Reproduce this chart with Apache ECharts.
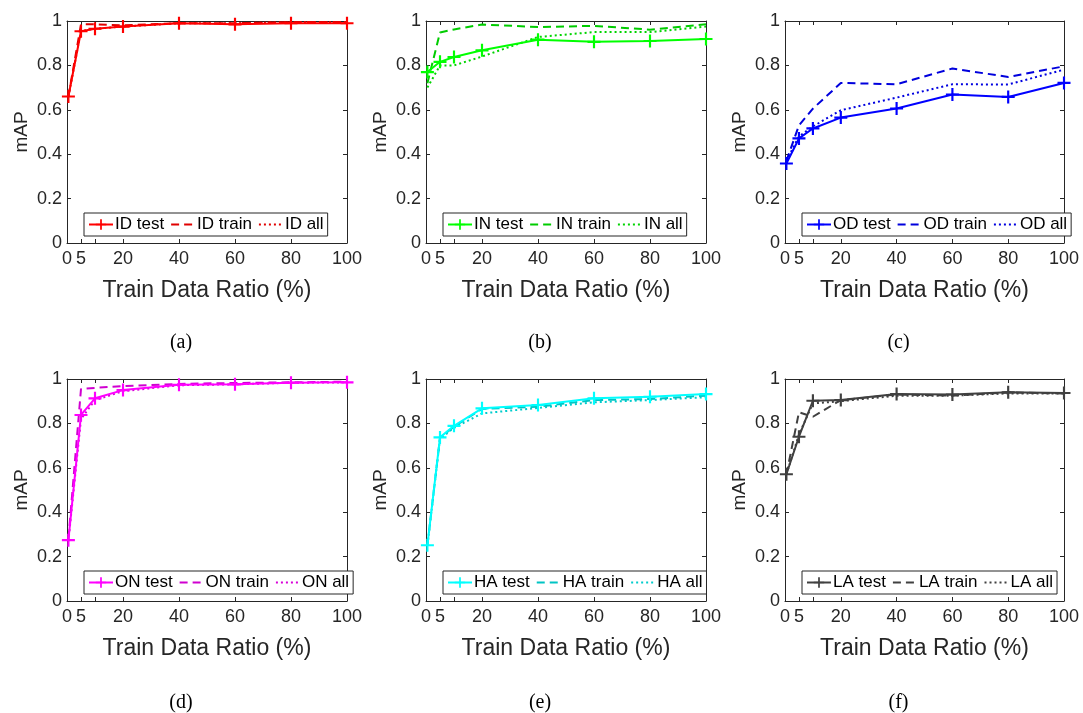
<!DOCTYPE html>
<html>
<head>
<meta charset="utf-8">
<script src="https://cdn.jsdelivr.net/npm/echarts@6/dist/echarts.min.js"></script>
<style>
  html, body { margin: 0; padding: 0; background: #fff; }
  #chart { width: 1083px; height: 713px; }
</style>
</head>
<body>
<div id="chart"></div>
<script>
// train data ratio (%) for every point
const xRatio = [0.5, 5, 10, 20, 40, 60, 80, 100];
const xTickValues = [0, 5, 10, 20, 40, 60, 80, 100];
const xLabelValues = [0, 5, 20, 40, 60, 80, 100];
const panelLabels = ["(a)", "(b)", "(c)", "(d)", "(e)", "(f)"];
const groups = ["ID", "IN", "OD", "ON", "HA", "LA"];

// mAP per group
const idTest = [0.66, 0.954, 0.965, 0.975, 0.99, 0.985, 0.99, 0.99];
const idTrain = [0.66, 0.985, 0.985, 0.98, 0.99, 0.99, 0.995, 0.995];
const idAll = [0.66, 0.955, 0.965, 0.975, 0.99, 0.99, 0.995, 0.995];

const inTest = [0.77, 0.816, 0.838, 0.868, 0.916, 0.906, 0.91, 0.919];
const inTrain = [0.72, 0.948, 0.962, 0.984, 0.973, 0.978, 0.961, 0.985];
const inAll = [0.70, 0.80, 0.80, 0.84, 0.928, 0.95, 0.95, 0.975];

const odTest = [0.358, 0.471, 0.516, 0.565, 0.606, 0.669, 0.658, 0.721];
const odTrain = [0.37, 0.53, 0.605, 0.721, 0.715, 0.786, 0.748, 0.796];
const odAll = [0.37, 0.48, 0.525, 0.598, 0.655, 0.715, 0.714, 0.781];

const onTest = [0.274, 0.838, 0.913, 0.95, 0.974, 0.976, 0.983, 0.985];
const onTrain = [0.28, 0.955, 0.96, 0.968, 0.978, 0.982, 0.985, 0.988];
const onAll = [0.27, 0.82, 0.905, 0.945, 0.972, 0.976, 0.983, 0.985];

const haTest = [0.251, 0.737, 0.789, 0.868, 0.883, 0.913, 0.92, 0.932];
const haTrain = [0.25, 0.735, 0.785, 0.865, 0.875, 0.905, 0.91, 0.925];
const haAll = [0.25, 0.73, 0.78, 0.845, 0.87, 0.895, 0.905, 0.918];

const laTest = [0.571, 0.74, 0.902, 0.905, 0.932, 0.93, 0.94, 0.937];
const laTrain = [0.57, 0.85, 0.83, 0.905, 0.93, 0.925, 0.94, 0.935];
const laAll = [0.57, 0.75, 0.89, 0.90, 0.925, 0.925, 0.935, 0.935];

const groupValues = [
  [idTest, idTrain, idAll],
  [inTest, inTrain, inAll],
  [odTest, odTrain, odAll],
  [onTest, onTrain, onAll],
  [haTest, haTrain, haAll],
  [laTest, laTrain, laAll],
];

// test / train / all colours per panel
const palette = [
  ["#ff0000", "#e00000", "#e00000"],
  ["#00ff00", "#00cc00", "#00d400"],
  ["#0000ff", "#0000dd", "#0000e0"],
  ["#ff00ff", "#d000d0", "#d800d8"],
  ["#00ffff", "#00c4c4", "#00cccc"],
  ["#404040", "#404040", "#404040"],
];

const boxes = [
  { left: 67, top: 21, width: 280, height: 222 },
  { left: 426, top: 21, width: 280, height: 222 },
  { left: 785, top: 21, width: 279, height: 222 },
  { left: 67, top: 379, width: 280, height: 222 },
  { left: 426, top: 379, width: 280, height: 222 },
  { left: 785, top: 379, width: 279, height: 222 },
];

const AXIS = "#262626";
const SANS = "Liberation Sans, Arial, sans-serif";
const PLUS = "path://M0,5L12,5L12,7L0,7Z M5,0L7,0L7,12L5,12Z";

const chart = echarts.init(document.getElementById("chart"), null, { renderer: "canvas" });

const grid = [];
const xAxis = [];
const yAxis = [];
const series = [];
const legend = [];
const graphic = [];

boxes.forEach((box, i) => {
  grid.push(Object.assign({ show: false }, box));

  const tickStyle = { show: true, inside: true, length: 4, lineStyle: { color: AXIS } };
  xAxis.push({
    gridIndex: i,
    type: "value",
    min: 0,
    max: 100,
    position: "bottom",
    axisLine: { show: true, onZero: false, lineStyle: { color: AXIS, width: 1 } },
    axisTick: Object.assign({ customValues: xTickValues }, tickStyle),
    axisLabel: { customValues: xLabelValues, color: AXIS, fontSize: 18, fontFamily: SANS, margin: 7 },
    splitLine: { show: false },
    name: "Train Data Ratio (%)",
    nameLocation: "middle",
    nameGap: 36,
    nameTextStyle: { color: AXIS, fontSize: 23, fontFamily: SANS },
  });
  xAxis.push({
    gridIndex: i,
    type: "value",
    min: 0,
    max: 100,
    position: "top",
    axisLine: { show: true, onZero: false, lineStyle: { color: AXIS, width: 1 } },
    axisTick: Object.assign({ customValues: xTickValues }, tickStyle),
    axisLabel: { show: false },
    splitLine: { show: false },
  });
  yAxis.push({
    gridIndex: i,
    type: "value",
    min: 0,
    max: 1,
    interval: 0.2,
    position: "left",
    axisLine: { show: true, onZero: false, lineStyle: { color: AXIS, width: 1 } },
    axisTick: tickStyle,
    axisLabel: { color: AXIS, fontSize: 18, fontFamily: SANS, margin: 5 },
    splitLine: { show: false },
    name: "mAP",
    nameLocation: "middle",
    nameGap: 36,
    nameTextStyle: { color: AXIS, fontSize: 19, fontFamily: SANS },
  });
  yAxis.push({
    gridIndex: i,
    type: "value",
    min: 0,
    max: 1,
    interval: 0.2,
    position: "right",
    axisLine: { show: true, onZero: false, lineStyle: { color: AXIS, width: 1 } },
    axisTick: tickStyle,
    axisLabel: { show: false },
    splitLine: { show: false },
  });

  const g = groups[i];
  const names = [g + " test", g + " train", g + " all"];
  const lineTypes = ["solid", [8, 5], [2, 3]];
  groupValues[i].forEach((vals, k) => {
    series.push({
      name: names[k],
      type: "line",
      xAxisIndex: 2 * i,
      yAxisIndex: 2 * i,
      data: xRatio.map((x, j) => [x, vals[j]]),
      symbol: k === 0 ? PLUS : "none",
      symbolSize: 13,
      showSymbol: k === 0,
      z: 3 - k,
      itemStyle: { color: palette[i][k] },
      lineStyle: { color: palette[i][k], width: 2, type: lineTypes[k] },
      animation: false,
    });
  });

  legend.push({
    data: [
      { name: names[0] },
      { name: names[1], itemStyle: { opacity: 0 } },
      { name: names[2], itemStyle: { opacity: 0 } },
    ],
    left: box.left + 17,
    top: box.top + box.height - 30,
    orient: "horizontal",
    padding: [3, 4],
    itemGap: 6,
    itemWidth: 24,
    itemHeight: 13,
    borderColor: AXIS,
    borderWidth: 1,
    borderRadius: 0,
    backgroundColor: "#fff",
    textStyle: { color: "#000", fontSize: 17, fontFamily: SANS, padding: [0, 0, 0, -3] },
  });

  graphic.push({
    type: "text",
    x: box.left + box.width / 2 - 26,
    y: i < 3 ? 343 : 703,
    style: {
      text: panelLabels[i],
      font: '20px "Liberation Serif", "Times New Roman", serif',
      fill: "#000",
      textAlign: "center",
      textVerticalAlign: "middle",
    },
  });
});

chart.setOption({
  animation: false,
  backgroundColor: "#fff",
  grid,
  xAxis,
  yAxis,
  legend,
  series,
  graphic,
});
</script>
</body>
</html>
